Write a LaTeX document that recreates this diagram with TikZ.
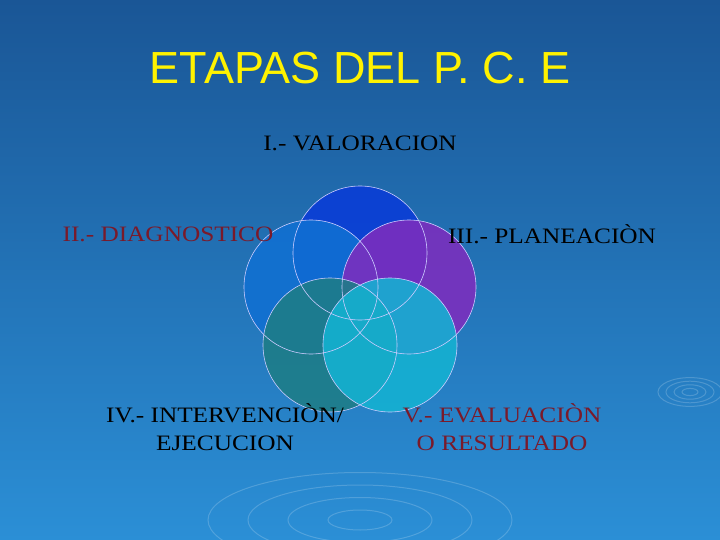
\documentclass[tikz,border=0pt]{standalone}
\usepackage{fontspec}
\setmainfont{Liberation Serif}
\newfontfamily\titlefont{Liberation Sans}
\definecolor{bgtop}{HTML}{1A5696}
\definecolor{bgbot}{HTML}{2B8FD6}
\definecolor{darkred}{HTML}{7A1A2A}
\tikzset{
  lbl/.style={font=\fontsize{22}{28}\selectfont, align=center, xscale=1.15},
  circ/.style={fill opacity=0.88},
  ripple/.style={draw=white, opacity=0.18, line width=1pt}
}
\begin{document}
\begin{tikzpicture}[x=1pt,y=-1pt]
\shade[top color=bgtop, bottom color=bgbot] (0,0) rectangle (720,540);
\useasboundingbox (0,0) rectangle (720,540);
% ripples
\foreach \r in {8,16,24,32}{\draw[ripple] (690,392) ellipse ({\r} and {\r*0.45});}
\foreach \r in {20,45,70,95}{\draw[ripple] (360,520) ellipse ({\r*1.6} and {\r*0.5});}
\node[font=\titlefont\fontsize{45}{50}\selectfont, text=yellow] (title) at (360,68) {ETAPAS DEL P. C. E};
% circles
\fill[circ, fill={rgb,255:red,10;green,60;blue,215}] (360,253) circle (67);
\fill[circ, fill={rgb,255:red,16;green,112;blue,210}] (311,287) circle (67);
\fill[circ, fill={rgb,255:red,125;green,45;blue,190}] (409,287) circle (67);
\fill[circ, fill={rgb,255:red,30;green,125;blue,135}] (330,345) circle (67);
\fill[circ, fill={rgb,255:red,20;green,178;blue,210}] (390,345) circle (67);
\foreach \x/\y in {360/253,311/287,409/287,330/345,390/345}
  \draw[draw=white!80!blue, line width=0.6pt] (\x,\y) circle (67);
\node[lbl] (t1) at (360,143) {I.- VALORACION};
\node[lbl, text=darkred] (t2) at (168,234) {II.- DIAGNOSTICO};
\node[lbl] (t3) at (552,234) {III.- PLANEACIÒN};
\node[lbl] (t4) at (225,427) {IV.- INTERVENCIÒN/\\EJECUCION};
\node[lbl, text=darkred] (t5) at (502,427) {V.- EVALUACIÒN\\O RESULTADO};
\end{tikzpicture}
\end{document}
